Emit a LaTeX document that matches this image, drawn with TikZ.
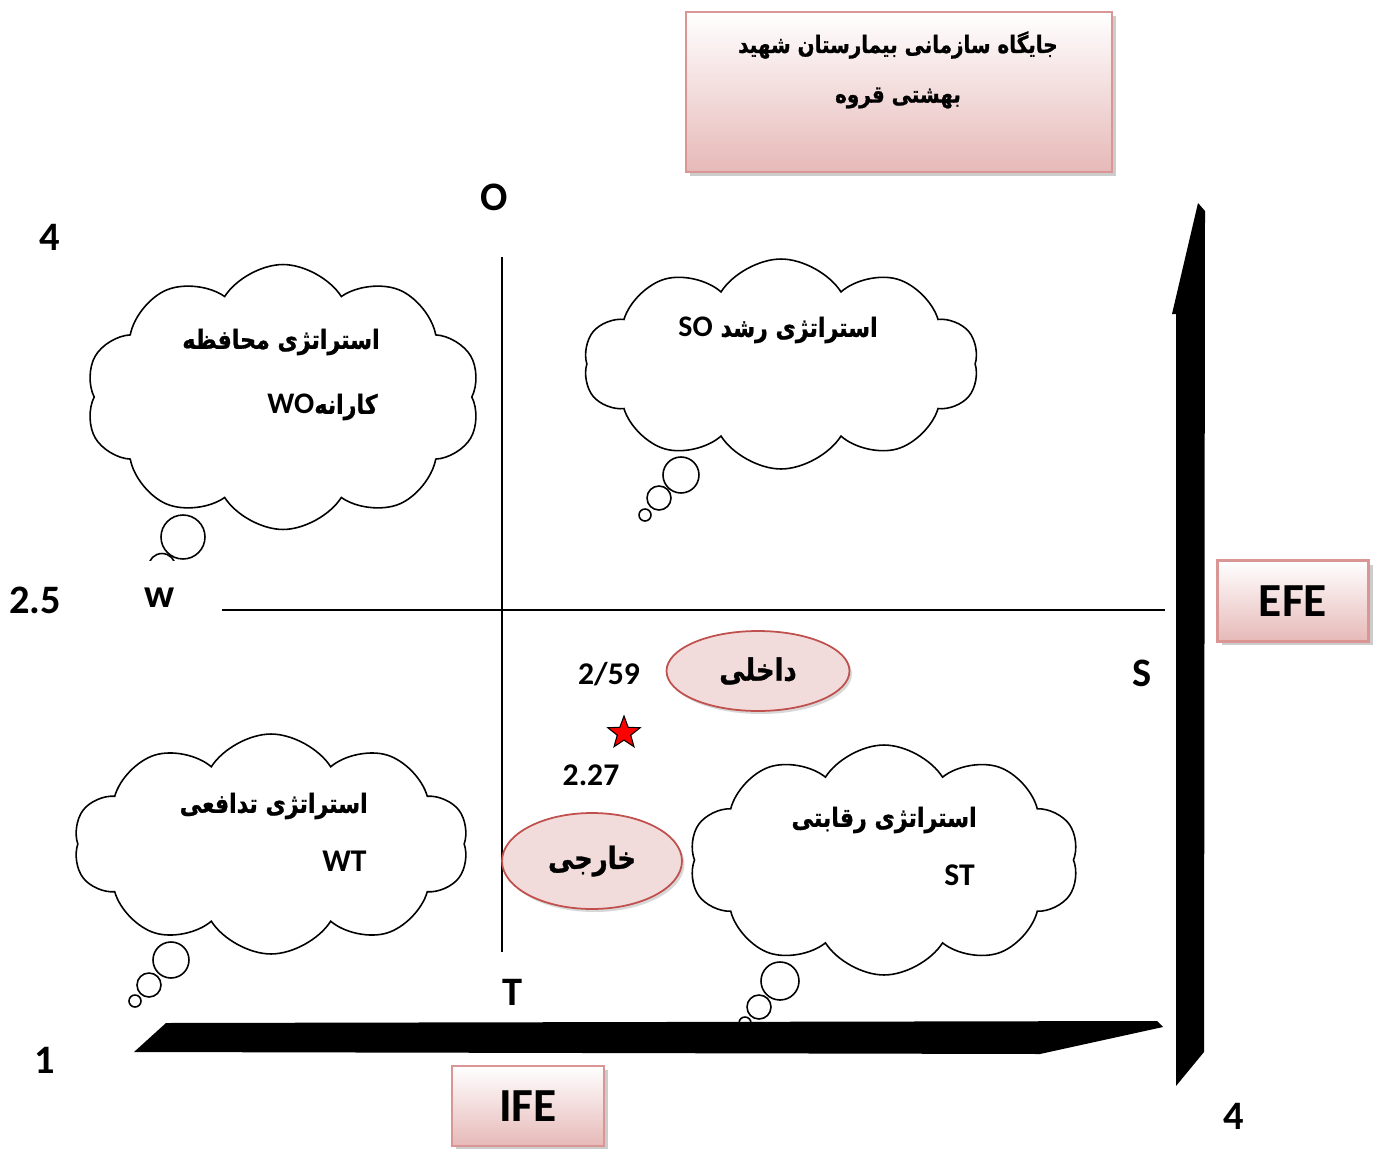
\documentclass[tikz,border=0pt]{standalone}
\usepackage{fontspec}
\usepackage{xcolor}
\usepackage{tikz}
\usetikzlibrary{
  positioning,
  shapes.symbols,
  shapes.geometric,
  shadows
}
\setmainfont{Carlito}
\newfontfamily\fafont[Script=Arabic, FakeStretch=0.84, FakeBold=1]{DejaVu Sans}
\TeXXeTstate=1
\definecolor{boxline}{HTML}{D99694}
\definecolor{boxlow}{HTML}{E6B9B8}
\definecolor{ovalfill}{HTML}{F2DCDB}
\definecolor{ovalline}{HTML}{C0504D}
\newcommand{\fa}[1]{{\fafont\bfseries\beginR #1\endR}}

\begin{document}
\begin{tikzpicture}[
  x=0.02cm, y=-0.02cm,
  axlbl/.style={font=\fontsize{23}{26}\selectfont\bfseries},
  numlbl/.style={font=\fontsize{18}{21}\selectfont\bfseries},
  pinkbox/.style={draw=boxline, line width=1.2pt, top color=white, bottom color=boxlow,
    drop shadow={shadow xshift=0.08cm, shadow yshift=-0.08cm, fill=black!40}},
  oval/.style={ellipse, draw=ovalline, line width=1pt, fill=ovalfill,
    drop shadow={shadow xshift=0.05cm, shadow yshift=-0.06cm, fill=black!30}},
  thought/.style={cloud, draw, line width=0.9pt, cloud puffs=10, cloud puff arc=115,
    cloud ignores aspect, fill=white},
  bubble/.style={draw, line width=0.9pt, fill=white},
  cloudtxt/.style={font=\fontsize{15}{18}\selectfont, anchor=east, inner sep=0pt},
]
  \useasboundingbox (0,0) rectangle (1376,1149);

  % Title
  \node[pinkbox, minimum width=8.52cm, minimum height=3.2cm] (title) at (899,92) {};
  \node[font=\fontsize{13.5}{16}\selectfont] (titleA) at (898,45) {\fa{جایگاه سازمانی بیمارستان شهید}};
  \node[font=\fontsize{13.5}{16}\selectfont] (titleB) at (898,98) {\fa{بهشتی قروه}};

  % Quadrant axes
  \coordinate (oTop) at (502,257);
  \coordinate (tBot) at (502,952);
  \coordinate (wLeft) at (222,610);
  \coordinate (sRight) at (1165,610);
  \draw[line width=0.9pt] (oTop) -- (tBot);
  \draw[line width=0.9pt] (wLeft) -- (sRight);

  % Thought clouds
  \node[thought, minimum width=7.9cm, minimum height=5.3cm] (wo) at (283,397) {};
  \draw[bubble] (183,537) circle (0.44cm);
  \begin{scope}
    \clip (120,520) rectangle (260,560);
    \draw[bubble] (162,567) circle (0.27cm);
  \end{scope}
  \node[cloudtxt] (woA) at (380,342) {\fa{استراتژی محافظه}};
  \node[cloudtxt] (woB) at (378,407) {\fa{کارانه\beginL\fontspec{Carlito}\fontsize{17}{20}\selectfont\bfseries WO\endL}};

  \node[thought, minimum width=7.9cm, minimum height=4.2cm] (so) at (781,364) {};
  \draw[bubble] (681,475) circle (0.36cm);
  \draw[bubble] (659,498) circle (0.24cm);
  \draw[bubble] (645,515) circle (0.12cm);
  \node[cloudtxt] (soA) at (878,330) {\fa{استراتژی رشد \beginL\fontspec{Carlito}\fontsize{17}{20}\selectfont\bfseries SO\endL}};

  \node[thought, minimum width=7.9cm, minimum height=4.4cm] (wt) at (271,844) {};
  \draw[bubble] (171,960) circle (0.36cm);
  \draw[bubble] (149,985) circle (0.24cm);
  \draw[bubble] (135,1001) circle (0.12cm);
  \node[cloudtxt] (wtA) at (368,806) {\fa{استراتژی تدافعی}};
  \node[cloudtxt, font=\fontsize{18}{21}\selectfont\bfseries] (wtB) at (367,861) {WT};

  \node[thought, minimum width=7.8cm, minimum height=4.6cm] (st) at (884,860) {};
  \draw[bubble] (780,981) circle (0.38cm);
  \draw[bubble] (759,1007) circle (0.24cm);
  \draw[bubble] (745,1023) circle (0.12cm);
  \node[cloudtxt] (stA) at (977,820) {\fa{استراتژی رقابتی}};
  \node[cloudtxt, font=\fontsize{18}{21}\selectfont\bfseries] (stB) at (975,875) {ST};

  % Position of the hospital
  \node[oval, minimum width=3.66cm, minimum height=1.6cm] (inner) at (758,671) {};
  \node[font=\fontsize{17.5}{20}\selectfont] at (inner) {\fa{داخلی}};
  \node[oval, minimum width=3.6cm, minimum height=1.92cm] (outer) at (592,861) {};
  \node[font=\fontsize{17.5}{20}\selectfont] at (outer) {\fa{خارجی}};
  \node[star, star points=5, star point ratio=2.4, draw=black, fill=red, line width=0.6pt,
    minimum size=0.68cm, inner sep=0pt] (pos) at (624,733) {};
  \node[numlbl] (ifeval) at (609,674) {2/59};
  \node[numlbl] (efeval) at (591,775) {2.27};

  % Axis arrows
  \fill (134,1052) -- (166,1023) -- (1157,1021) -- (1163,1027) -- (1040,1054) -- cycle;
  \fill (1176,1086) -- (1176,314) -- (1172,314) -- (1198,203) -- (1205,211) -- (1204,1052) -- cycle;

  % Labels
  \node[axlbl] (lblO) at (494,197) {O};
  \node[axlbl] (lblT) at (512,992) {T};
  \node[axlbl] (lblS) at (1142,673) {S};
  \node[axlbl] (lblW) at (160,598) {w};
  \node[axlbl] (top4) at (50,237) {4};
  \node[axlbl] (mid) at (35,600) {2.5};
  \node[axlbl] (low1) at (45,1060) {1};
  \node[axlbl] (right4) at (1234,1116) {4};

  \node[pinkbox, minimum width=3.02cm, minimum height=1.62cm,
    font=\fontsize{27}{30}\selectfont\bfseries] (efe) at (1293,601) {EFE};
  \node[pinkbox, minimum width=3.04cm, minimum height=1.6cm,
    font=\fontsize{27}{30}\selectfont\bfseries] (ife) at (528,1106) {IFE};
\end{tikzpicture}
\end{document}
